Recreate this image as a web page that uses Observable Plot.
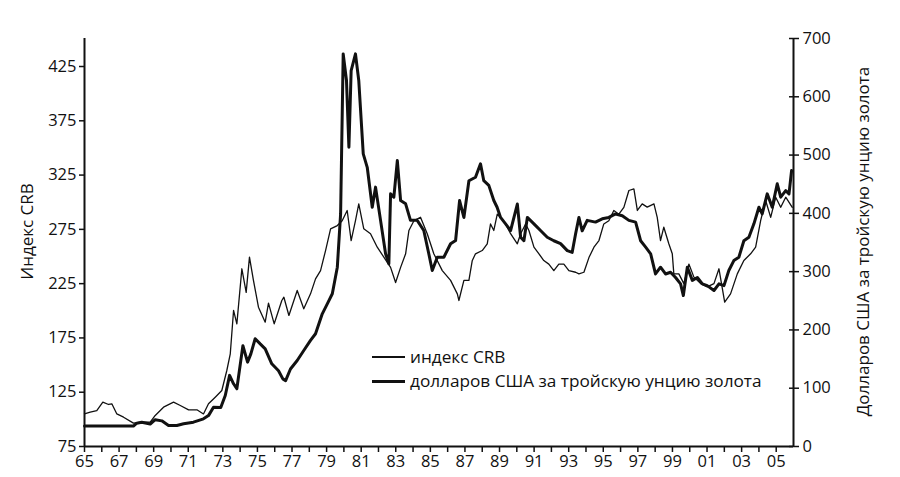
<!DOCTYPE html>
<html>
<head>
<meta charset="utf-8">
<script src="https://cdn.jsdelivr.net/npm/d3@7"></script>
<script src="https://cdn.jsdelivr.net/npm/@observablehq/plot@0.6"></script>
<style>
  html, body { margin: 0; padding: 0; background: #fff; }
  #wrap { position: relative; width: 900px; height: 477px; font-family: "Open Sans", sans-serif; color: #111; }
  #legend { position: absolute; left: 372px; top: 345px; font-size: 17.2px; line-height: 24px; }
  #legend .row { display: flex; align-items: center; white-space: nowrap; }
  #legend .sw { width: 33px; margin-right: 5px; background: #111; }
</style>
</head>
<body>
<div id="wrap"></div>
<script>
// CRB index (thin line): decimal year, value
const crbYears = [1965.0,1965.33,1965.71,1966.06,1966.39,1966.58,1966.87,1967.26,1967.83,1968.31,1968.8,1969.09,1969.57,1970.15,1970.54,1971.02,1971.5,1971.88,1972.17,1972.56,1972.94,1973.23,1973.43,1973.62,1973.81,1974.1,1974.35,1974.54,1974.77,1975.06,1975.45,1975.64,1975.97,1976.41,1976.53,1976.82,1977.3,1977.68,1978.07,1978.36,1978.65,1978.94,1979.23,1979.62,1979.9,1980.19,1980.42,1980.67,1980.86,1981.15,1981.54,1981.93,1982.31,1982.7,1982.99,1983.28,1983.57,1983.76,1984.05,1984.43,1984.82,1985.2,1985.69,1986.17,1986.56,1986.65,1986.94,1987.23,1987.42,1987.61,1988.0,1988.29,1988.48,1988.67,1988.87,1989.06,1989.35,1989.64,1990.03,1990.22,1990.51,1990.7,1990.99,1991.28,1991.56,1991.85,1992.14,1992.43,1992.72,1993.01,1993.4,1993.59,1993.88,1994.17,1994.46,1994.75,1995.03,1995.32,1995.61,1995.9,1996.19,1996.48,1996.77,1996.97,1997.25,1997.54,1997.93,1998.12,1998.31,1998.5,1998.79,1998.99,1999.08,1999.37,1999.66,1999.95,2000.24,2000.63,2001.01,2001.4,2001.69,2002.02,2002.36,2002.75,2003.13,2003.52,2003.81,2004.1,2004.39,2004.68,2004.97,2005.26,2005.55,2005.93];
const crbValues = [105,106.6,108,115.8,113.7,114.3,105,102,96.5,97.4,97.4,103.6,111.2,115.8,112.8,108.8,108.8,105,114.3,120.4,126.6,145,160.4,200.3,188,238.7,217,249.4,228,203.3,189.5,207,188,209.5,212.5,195.7,218.7,201.8,215.6,229.4,237,255.5,275.5,278.5,283,292.4,264.7,283,298.5,275.5,271,258.6,249.4,240,226,240,252.5,274,283,286.2,271,252.5,237,228,215.6,209.5,228,228,246,252.5,255.5,261.7,280,274,289,286,280,271,261.7,271,280,274,258.6,252.5,246.3,243,237,243,243,237,235.5,234,235.5,249,258.6,264.7,280,283,292.4,289,295.3,310.8,312.3,292.4,298.5,295.5,298.5,286,264.7,277,261.7,252.5,234,234,225,243,231,225,222,225,238.7,208,215.6,234,246.3,252.5,258.6,283,301.6,286,304.6,295.3,304.6,295.3];

// Gold, US dollars per troy ounce (thick line)
const goldYears = [1965.0,1967.83,1968.02,1968.31,1968.8,1969.09,1969.47,1969.86,1970.34,1970.73,1971.3,1971.88,1972.17,1972.46,1972.88,1973.14,1973.39,1973.62,1973.81,1974.16,1974.43,1974.62,1974.87,1975.16,1975.45,1975.83,1976.22,1976.47,1976.63,1976.91,1977.3,1977.68,1978.07,1978.36,1978.75,1979.04,1979.33,1979.62,1979.81,1979.96,1980.15,1980.29,1980.42,1980.67,1980.86,1981.12,1981.35,1981.64,1981.83,1982.12,1982.41,1982.6,1982.7,1982.89,1983.09,1983.28,1983.57,1983.85,1984.24,1984.62,1984.91,1985.11,1985.4,1985.78,1986.17,1986.46,1986.69,1986.94,1987.23,1987.61,1987.9,1988.09,1988.38,1988.67,1988.86,1989.06,1989.35,1989.64,1990.03,1990.22,1990.41,1990.61,1990.99,1991.37,1991.76,1992.14,1992.53,1992.92,1993.2,1993.4,1993.59,1993.78,1994.07,1994.55,1994.94,1995.32,1995.71,1996.1,1996.48,1996.87,1997.16,1997.45,1997.74,1998.02,1998.31,1998.6,1998.89,1999.18,1999.47,1999.63,1999.86,2000.15,2000.44,2000.73,2001.01,2001.4,2001.69,2001.98,2002.26,2002.55,2002.84,2003.13,2003.42,2003.71,2004.0,2004.19,2004.48,2004.77,2005.06,2005.26,2005.55,2005.74,2005.89];
const goldValues = [35,35,40,41.7,38.6,46,44,36,36,39,41.7,47.5,53,67.4,67,87.5,122,107.6,99,173,144.7,159,184.8,176,167.6,141.9,130,116,113,133,147.5,164.7,182,193.4,227.6,244.8,262,307.6,399,673.6,628,513.5,645,673.6,628,502,479,410.5,445,388,330.6,313.4,433.5,427.7,490.6,422,416.4,388,388,370.5,330.6,302,324.7,324.7,347.8,353.4,422,393,456,462,485,456,448,422,410.5,393,382,370.5,416,359,353,393,382,370.5,359,353,348,336,333,365,393,370,388,385,390.6,393,399,396,388,385,353,342,330.6,296,307.6,296,299,290,279,259,307.6,285,290,279,276,267.6,279,276,302,319,324.7,353,359,382,410.5,399,433.5,410.5,450.7,427.7,439,433.5,473.5];

// Tick labels
const crbTicks = [75, 125, 175, 225, 275, 325, 375, 425];
const goldTicks = [0, 100, 200, 300, 400, 500, 600, 700];
const yearTicks = d3.range(1965, 2006);
const leftTitle = "Индекс CRB";
const rightTitle = "Долларов США за тройскую унцию золота";
const legendLabels = ["индекс CRB", "долларов США за тройскую унцию золота"];

// Map gold axis onto the CRB scale (both share the plot frame)
const crbMin = 75, crbMax = 450.8, goldMax = 700;
const k = (crbMax - crbMin) / goldMax;
const g2y = g => crbMin + g * k;

const crb = crbYears.map((t, i) => ({t, v: crbValues[i]}));
const gold = goldYears.map((t, i) => ({t, v: goldValues[i]}));

const chart = Plot.plot({
  width: 900,
  height: 477,
  marginLeft: 84,
  marginRight: 107,
  marginTop: 38,
  marginBottom: 31,
  style: {fontFamily: "'Open Sans', sans-serif", fontSize: "16.5px", color: "#111", background: "#fff", overflow: "visible"},
  x: {domain: [1965, 2006]},
  y: {domain: [crbMin, crbMax]},
  marks: [
    Plot.axisX({ticks: yearTicks, tickSize: 6, tickPadding: 3, tickFormat: d => d % 2 ? String(d % 100).padStart(2, "0") : "", label: null, strokeWidth: 1.5}),
    Plot.axisY({ticks: crbTicks, tickSize: 5, tickPadding: 3, tickFormat: d => String(d), label: null, strokeWidth: 1.5}),
    Plot.axisY({anchor: "right", ticks: goldTicks.map(g2y), tickSize: 5, tickPadding: 4, tickFormat: d => String(Math.round((d - crbMin) / k)), label: null, strokeWidth: 1.5}),
    Plot.axisY({anchor: "right", ticks: goldTicks.map(g2y), tickSize: -5, tickFormat: () => "", label: null, strokeWidth: 1.5}),
    Plot.ruleX([1965], {strokeWidth: 2}),
    Plot.ruleX([2006], {strokeWidth: 2}),
    Plot.ruleY([crbMin], {strokeWidth: 2}),
    Plot.line(crb, {x: "t", y: "v", stroke: "#111", strokeWidth: 1.3, curve: "linear"}),
    Plot.line(gold, {x: "t", y: d => g2y(d.v), stroke: "#111", strokeWidth: 3, curve: "linear"}),
    Plot.text([leftTitle], {frameAnchor: "left", textAnchor: "middle", dx: -57, dy: -11, rotate: -90, fontSize: 17, fill: "#111"}),
    Plot.text([rightTitle], {frameAnchor: "right", textAnchor: "middle", dx: 70, dy: -1, rotate: -90, fontSize: 17, fill: "#111"})
  ]
});

const wrap = document.getElementById("wrap");
wrap.appendChild(chart);

const legend = document.createElement("div");
legend.id = "legend";
legendLabels.forEach((lab, i) => {
  const row = document.createElement("div");
  row.className = "row";
  const sw = document.createElement("span");
  sw.className = "sw";
  sw.style.height = (i === 0 ? 1.3 : 3) + "px";
  const tx = document.createElement("span");
  tx.textContent = lab;
  row.appendChild(sw);
  row.appendChild(tx);
  legend.appendChild(row);
});
wrap.appendChild(legend);
</script>
</body>
</html>
